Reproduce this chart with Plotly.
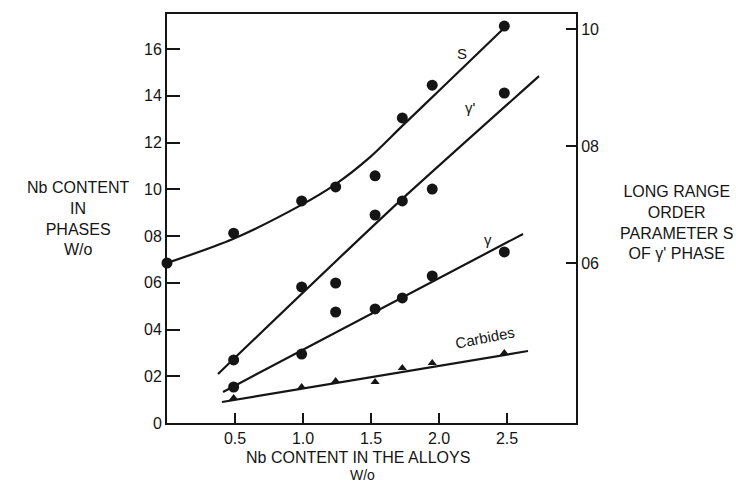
import plotly.graph_objects as go

# Nb content of the alloys (w/o) at which the phases were analysed
alloy_nb = [0.49, 0.99, 1.24, 1.53, 1.73, 1.95, 2.48]

# Nb content in each phase (w/o)
gamma_prime_nb = [2.70, 5.82, 5.99, 8.90, 9.50, 10.01, 14.12]
gamma_nb = [1.54, 2.95, 4.75, 4.88, 5.35, 6.29, 7.32]
carbide_nb = [1.07, 1.54, 1.80, 1.75, 2.35, 2.57, 2.99]

# long range order parameter S of the gamma-prime phase (right axis)
s_alloy_nb = [0.0, 0.49, 0.99, 1.24, 1.53, 1.73, 1.95, 2.48]
s_order = [0.600, 0.651, 0.706, 0.730, 0.749, 0.848, 0.904, 1.005]

# drawn trend curves through the data
s_fit_x = [0.0, 0.485, 0.978, 1.235, 1.493, 1.728, 2.007, 2.471]
s_fit_y = [0.600, 0.641, 0.698, 0.734, 0.781, 0.834, 0.896, 1.000]
gp_fit_x = [0.375, 1.640, 2.735]
gp_fit_y = [2.10, 9.11, 14.84]
g_fit_x = [0.412, 2.618]
g_fit_y = [1.33, 8.09]
carb_fit_x = [0.404, 2.654]
carb_fit_y = [0.90, 3.08]

# tick labels
x_ticks = [0.5, 1.0, 1.5, 2.0, 2.5]
x_tick_text = ["0.5", "1.0", "1.5", "2.0", "2.5"]
y_ticks = [0, 2, 4, 6, 8, 10, 12, 14, 16]
y_tick_text = ["0", "02", "04", "06", "08", "10", "12", "14", "16"]
y2_ticks = [0.6, 0.8, 1.0]
y2_tick_text = ["06", "08", "10"]

INK = "#151515"
FONT = "Liberation Sans, Arial, sans-serif"
line_style = dict(color=INK, width=2.2)

fig = go.Figure()

# trend lines
fig.add_trace(go.Scatter(x=s_fit_x, y=s_fit_y, yaxis="y2", mode="lines",
                         line=dict(shape="spline", smoothing=0.8, **line_style),
                         hoverinfo="skip"))
fig.add_trace(go.Scatter(x=gp_fit_x, y=gp_fit_y, mode="lines",
                         line=dict(shape="spline", smoothing=0.6, **line_style),
                         hoverinfo="skip"))
fig.add_trace(go.Scatter(x=g_fit_x, y=g_fit_y, mode="lines", line=line_style,
                         hoverinfo="skip"))
fig.add_trace(go.Scatter(x=carb_fit_x, y=carb_fit_y, mode="lines", line=line_style,
                         hoverinfo="skip"))

# measured points
circle = dict(symbol="circle", size=11, color=INK)
fig.add_trace(go.Scatter(x=s_alloy_nb, y=s_order, yaxis="y2", mode="markers",
                         marker=circle, cliponaxis=False, name="S"))
fig.add_trace(go.Scatter(x=alloy_nb, y=gamma_prime_nb, mode="markers",
                         marker=circle, cliponaxis=False, name="γ'"))
fig.add_trace(go.Scatter(x=alloy_nb, y=gamma_nb, mode="markers",
                         marker=circle, cliponaxis=False, name="γ"))
fig.add_trace(go.Scatter(x=alloy_nb, y=carbide_nb, mode="markers",
                         marker=dict(symbol="triangle-up", size=8, color=INK),
                         cliponaxis=False, name="Carbides"))

axis_common = dict(showgrid=False, zeroline=False, showline=True, linecolor=INK,
                   linewidth=2, ticks="inside", tickcolor=INK, tickwidth=2,
                   tickfont=dict(family=FONT, size=16, color=INK))

fig.update_layout(
    width=736, height=484,
    margin=dict(l=167, r=160, t=14, b=61),
    paper_bgcolor="white", plot_bgcolor="white",
    showlegend=False,
    font=dict(family=FONT, color=INK),
    xaxis=dict(range=[0, 3.007], tickvals=x_ticks, ticktext=x_tick_text,
               ticklen=10, mirror=True, **axis_common),
    yaxis=dict(range=[0, 17.5], tickvals=y_ticks, ticktext=y_tick_text,
               ticklen=13, **axis_common),
    yaxis2=dict(range=[0.3265, 1.0256], tickvals=y2_ticks, ticktext=y2_tick_text,
                overlaying="y", side="right", ticklen=10, **axis_common),
)

title_font = dict(family=FONT, size=16, color=INK)
annotations = [
    dict(text="Nb CONTENT<br>IN<br>PHASES<br>W/o", x=-0.2176, y=0.501),
    dict(text="LONG RANGE<br>ORDER<br>PARAMETER S<br>OF γ' PHASE", x=1.247, y=0.491),
    dict(text="Nb CONTENT IN THE ALLOYS", x=0.467, y=-0.084,
         font=dict(family=FONT, size=16, color=INK)),
]
for a in annotations:
    fig.add_annotation(xref="paper", yref="paper", xanchor="center", yanchor="middle",
                       showarrow=False, align="center",
                       font=a.pop("font", title_font), **a)
fig.add_annotation(text="W/o", xref="paper", yref="paper", x=0.479, y=-0.149,
                   xanchor="center", yanchor="bottom", showarrow=False,
                   borderpad=0, font=dict(family=FONT, size=14, color=INK))

# curve labels
label_font = dict(family=FONT, size=15, color=INK)
for text, lx, ly, ang in [("S", 2.169, 15.83, 0), ("γ'", 2.228, 13.48, 0),
                          ("γ", 2.36, 7.87, 0), ("Carbides", 2.338, 3.64, -11)]:
    fig.add_annotation(text=text, x=lx, y=ly, xref="x", yref="y", showarrow=False,
                       textangle=ang, font=label_font)

fig.write_html("out.html")
